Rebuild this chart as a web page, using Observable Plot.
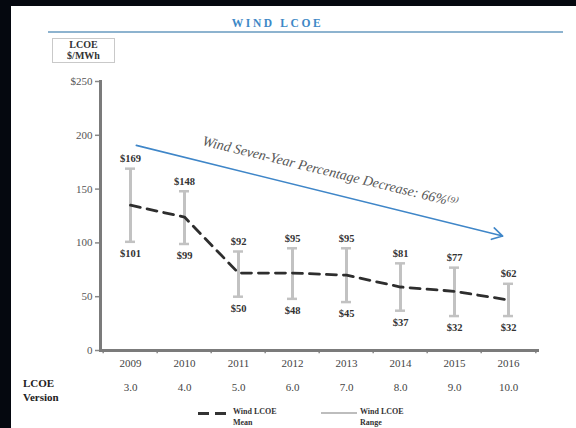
<!DOCTYPE html>
<html>
<head>
<meta charset="utf-8">
<script src="https://cdn.jsdelivr.net/npm/d3@7"></script>
<script src="https://cdn.jsdelivr.net/npm/@observablehq/plot@0.6"></script>
<style>
  html, body { margin: 0; padding: 0; background: #05080f; width: 576px; height: 428px; overflow: hidden; }
  #panel { position: absolute; left: 11px; top: 6px; width: 565px; height: 422px; background: #fff; font-family: "Liberation Serif", "DejaVu Serif", serif; }
  #title { position: absolute; left: 0; width: 533px; top: 11px; text-align: center; font-weight: bold; font-size: 11.5px; letter-spacing: 2.6px; color: #3d88c6; }
  #rule { position: absolute; left: 37px; width: 515px; top: 25px; height: 2px; background: #8db3cf; }
  #unit { position: absolute; left: 41px; top: 32px; width: 61px; height: 22px; border: 1px solid #c9c9c9; text-align: center; font-weight: bold; font-size: 10px; line-height: 10.5px; color: #333; padding-top: 1px; }
  #chart { position: absolute; left: 0; top: 30px; }
  #ver { position: absolute; left: 12px; top: 370px; font-weight: bold; font-size: 11px; line-height: 14px; color: #222; }
  .leg { position: absolute; top: 400px; font-size: 8px; line-height: 11px; color: #333; font-weight: bold; }
  .sw { position: absolute; top: 406px; }
</style>
</head>
<body>
<div id="panel">
  <div id="title">WIND LCOE</div>
  <div id="rule"></div>
  <div id="chart"></div>
  <div id="unit">LCOE<br>$/MWh</div>
  <div id="ver">LCOE<br>Version</div>
  <div class="sw" style="left:187px;width:28px;height:3px;background:repeating-linear-gradient(90deg,#333 0 11px,transparent 11px 17px);"></div>
  <div class="leg" style="left:222px;">Wind LCOE<br>Mean</div>
  <div class="sw" style="left:310px;width:36px;height:2px;background:#bdbdbd;"></div>
  <div class="leg" style="left:349px;">Wind LCOE<br>Range</div>
</div>
<script>
const years = ["2009", "2010", "2011", "2012", "2013", "2014", "2015", "2016"];
const versions = ["3.0", "4.0", "5.0", "6.0", "7.0", "8.0", "9.0", "10.0"];
const highs = [169, 148, 92, 95, 95, 81, 77, 62];
const lows = [101, 99, 50, 48, 45, 37, 32, 32];
const means = [135, 124, 72, 72, 70, 59, 55, 47];
const yTicks = [0, 50, 100, 150, 200, 250];
const arrowData = [{x1: "2009", y1: 192, x2: "2016", y2: 105}];
const noteText = ["Wind Seven-Year Percentage Decrease: 66%\u207D\u2079\u207E"];
const noteAnchor = [{x: "2013", y: 166}];

const data = years.map((y, i) => ({year: y, version: versions[i], high: highs[i], low: lows[i], mean: means[i]}));

const W = 565, ML = 89, MR = 39;
const bw = (W - ML - MR) / years.length;
const serif = "Liberation Serif, DejaVu Serif, serif";
const barColor = "#c2c2c2";

const chart = Plot.plot({
  width: W,
  height: 370,
  marginLeft: ML,
  marginRight: MR,
  marginTop: 45,
  marginBottom: 56,
  style: {background: "transparent", overflow: "visible", fontFamily: serif},
  x: {type: "band", domain: years, padding: 0, axis: null},
  y: {domain: [0, 250], axis: null},
  marks: [
    Plot.axisY({ticks: yTicks, tickSize: 5, tickPadding: 3, tickFormat: d => d === 250 ? "$250" : String(d),
      fontSize: 11, fontFamily: serif, fill: "#555", stroke: "#888", strokeWidth: 1.5, label: null}),
    Plot.axisX({tickSize: 0, tickPadding: 9, fontSize: 11, fontFamily: serif, fill: "#444", label: null}),
    Plot.ruleX(years, {x: d => d, dx: -bw / 2, y1: 0, y2: -3, stroke: "#888", strokeWidth: 1.5}),
    Plot.ruleX(years.slice(-1), {x: d => d, dx: bw / 2, y1: 0, y2: -3, stroke: "#888", strokeWidth: 1.5}),
    Plot.frame({anchor: "left", stroke: "#7b7b7b", strokeWidth: 3}),
    Plot.frame({anchor: "bottom", stroke: "#7b7b7b", strokeWidth: 3}),
    Plot.ruleX(data, {x: "year", y1: "low", y2: "high", stroke: barColor, strokeWidth: 3}),
    Plot.tickY(data, {x: "year", y: "high", insetLeft: 22, insetRight: 22, stroke: barColor, strokeWidth: 2.5}),
    Plot.tickY(data, {x: "year", y: "low", insetLeft: 22, insetRight: 22, stroke: barColor, strokeWidth: 2.5}),
    Plot.line(data, {x: "year", y: "mean", stroke: "#2e2e2e", strokeWidth: 2.8, strokeDasharray: "10,7"}),
    Plot.text(data, {x: "year", y: "high", text: d => "$" + d.high, dy: -10, fontSize: 10.5, fontWeight: "bold", fill: "#333", fontFamily: serif}),
    Plot.text(data, {x: "year", y: "low", text: d => "$" + d.low, dy: 12, fontSize: 10.5, fontWeight: "bold", fill: "#333", fontFamily: serif}),
    Plot.text(data, {x: "year", text: "version", frameAnchor: "bottom", dy: 40, fontSize: 11, fill: "#444", fontFamily: serif}),
    Plot.arrow(arrowData, {x1: "x1", y1: "y1", x2: "x2", y2: "y2", stroke: "#3f86c8", strokeWidth: 1.6, headLength: 11, insetStart: 6, insetEnd: 6}),
    Plot.text(noteAnchor, {x: "x", y: "y", dx: -16, text: () => noteText[0], rotate: 13.7, fontSize: 14, fontStyle: "italic", fill: "#555", fontFamily: serif})
  ]
});
document.getElementById("chart").appendChild(chart);
</script>
</body>
</html>
